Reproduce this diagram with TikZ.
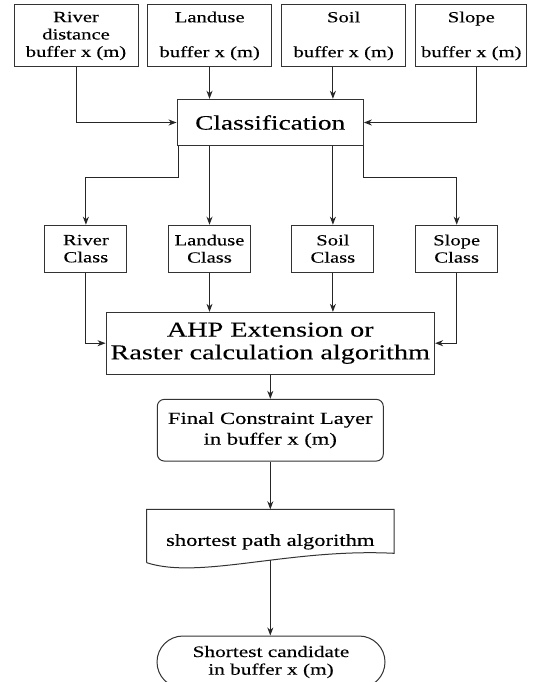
\documentclass[tikz,border=0pt]{standalone}
\usepackage{fontspec}
\setmainfont{Liberation Serif}[FakeStretch=1.33, FakeBold=0.15]
\usetikzlibrary{arrows.meta}
\begin{document}
\begin{tikzpicture}[x=1pt,y=-1pt,
  box/.style={draw=black!80, line width=1pt, rectangle, inner sep=0pt, align=center},
  topbox/.style={box, minimum width=124pt, minimum height=62pt, font=\fontsize{15.5}{17.4}\selectfont},
  classbox/.style={box, minimum width=82pt, minimum height=47pt, font=\fontsize{15.5}{17.2}\selectfont},
  arr/.style={draw=black!85, line width=1pt, -{Stealth[length=8pt,width=6pt,inset=2.5pt]}},
  shapeline/.style={draw=black!80, line width=1pt}]
\useasboundingbox (0,0) rectangle (539,682);
\fill[white] (0,0) rectangle (539,682);
\clip (0,0) rectangle (539,682);

% top row
\node[topbox] (rd) at (76,36) {River\\distance\\buffer x (m)};
\node[topbox] (lu) at (209.7,36) {Landuse\\~\\buffer x (m)};
\node[topbox] (so) at (343.7,36) {Soil\\~\\buffer x (m)};
\node[topbox, minimum width=111.3pt] (sl) at (471.3,36) {Slope\\~\\buffer x (m)};

% classification
\node[box, minimum width=186.3pt, minimum height=46.4pt, font=\fontsize{20.5}{23}\selectfont] (cls) at (270.2,122.5) {Classification};

% class row
\node[classbox] (rc) at (85.9,248.7) {River\\Class};
\node[classbox] (lc) at (209.5,248.7) {Landuse\\Class};
\node[classbox] (sc) at (332.9,248.7) {Soil\\Class};
\node[classbox] (pc) at (456.7,248.7) {Slope\\Class};

% AHP
\node[box, minimum width=328.5pt, minimum height=61.7pt, font=\fontsize{21.2}{22.7}\selectfont] (ahp) at (270.3,343.2) {AHP Extension or\\Raster calculation algorithm};

% final constraint layer
\node[box, rounded corners=7pt, minimum width=226pt, minimum height=61.7pt, font=\fontsize{17}{20.7}\selectfont] (fin) at (270.3,430.2) {Final Constraint Layer\\in buffer x (m)};

% shortest path (document shape)
\node[inner sep=0pt, font=\fontsize{17}{20}\selectfont] (sp) at (270.3,541.8) {shortest path algorithm};
\draw[shapeline] (146.7,562.7) -- (146.7,509.3) -- (394,509.3) -- (394,553.3)
  .. controls (290,548) and (200,580) .. (146.7,562.7);
\coordinate (sptop) at (270.3,509.3);
\coordinate (spbot) at (270.3,560.3);

% shortest candidate (terminal)
\node[box, rounded corners=26pt, minimum width=228pt, minimum height=52pt, font=\fontsize{16}{17.7}\selectfont] (cand) at (271,662) {Shortest candidate\\in buffer x (m)};

% connectors top row -> classification
\draw[arr] (rd.south) |- (cls.west);
\draw[arr] (lu.south -| lc.north) -- (lc.north |- cls.north);
\draw[arr] (so.south -| sc.north) -- (sc.north |- cls.north);
\draw[arr] ([xshift=5.5pt]sl.south) |- (cls.east);

% classification -> classes
\draw[arr] ([xshift=2pt]cls.south west) -- ++(0,31.6) -| (rc.north);
\draw[arr] (cls.south -| lc.north) -- (lc.north);
\draw[arr] (cls.south -| sc.north) -- (sc.north);
\draw[arr] (cls.south east) -- ++(0,31.6) -| (pc.north);

% classes -> AHP
\draw[arr] (rc.south) |- (ahp.west);
\draw[arr] (lc.south) -- (lc.south |- ahp.north);
\draw[arr] (sc.south) -- (sc.south |- ahp.north);
\draw[arr] (pc.south) |- (ahp.east);

% vertical chain
\draw[arr] (ahp.south) -- (ahp.south |- fin.north);
\draw[arr] (fin.south) -- (sptop);
\draw[arr] (spbot) -- (spbot |- cand.north);
\end{tikzpicture}
\end{document}
